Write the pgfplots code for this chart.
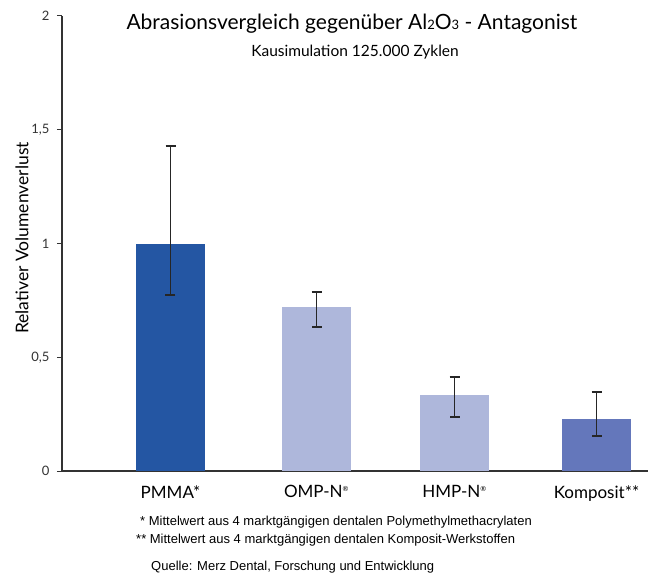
\documentclass[border=0pt]{standalone}
\usepackage{pgfplots}
\pgfplotsset{compat=1.18}
\usepackage{fontspec}
\setmainfont{Lato}
\newfontfamily\arialfont{Liberation Sans}
\definecolor{cPMMA}{HTML}{2456A3}
\definecolor{cLight}{HTML}{AEB7DB}
\definecolor{cKomp}{HTML}{6477BB}
\definecolor{cAxis}{HTML}{333333}
\definecolor{cErr}{HTML}{262626}
\pgfplotsset{
  myerr/.style={
    error bars/.cd,
      y dir=both, y explicit,
      error bar style={draw=cErr, line width=1.8pt, solid},
      error mark options={rotate=90, draw=cErr, line width=1.6pt, mark size=5pt},
  },
}
\newcommand{\sub}[1]{{\fontsize{13}{13}\selectfont #1}}
\newcommand{\reg}{\textsuperscript{\fontsize{7}{7}\selectfont ®}}
\begin{document}
\begin{tikzpicture}[x=1pt,y=1pt]
\useasboundingbox (-62,-103) rectangle (600,471);
\begin{axis}[
  scale only axis, width=586pt, height=455pt,
  xmin=0, xmax=586, ymin=0, ymax=2,
  axis x line*=bottom, axis y line*=left,
  axis line style={-, draw=cAxis, line width=1.2pt},
  ytick={0,0.5,1,1.5,2},
  yticklabel style={font=\fontsize{13}{13}\selectfont, /pgf/number format/use comma, /pgf/number format/assume math mode=true, text=cAxis, xshift=-4pt},
  tick align=outside, major tick length=5pt,
  ytick style={draw=cAxis, line width=1pt},
  xtick={108.5,254.5,392.5,534.5},
  xticklabels={PMMA*, OMP-N\reg, HMP-N\reg, Komposit**},
  xtick style={draw=none},
  xticklabel style={font=\fontsize{17}{17}\selectfont, yshift=-6pt},
  ybar, bar width=69, bar shift=0pt,
]
\addplot[fill=cPMMA, draw=none, myerr] table[x=x, y=y, y error plus=ep, y error minus=em] {
x y ep em
108.5 1.000 0.429 0.226
};
\addplot[fill=cLight, draw=none, myerr] table[x=x, y=y, y error plus=ep, y error minus=em] {
x y ep em
254.5 0.722 0.066 0.088
};
\addplot[fill=cLight, draw=none, myerr] table[x=x, y=y, y error plus=ep, y error minus=em] {
x y ep em
392.5 0.334 0.080 0.096
};
\addplot[fill=cKomp, draw=none, myerr] table[x=x, y=y, y error plus=ep, y error minus=em] {
x y ep em
534.5 0.229 0.118 0.074
};
\end{axis}
\node[anchor=base, font=\fontsize{21}{21}\selectfont, inner sep=0pt] at (290,441) {Abrasionsvergleich gegenüber Al\sub{2}O\sub{3} - Antagonist};
\node[anchor=base, font=\fontsize{15.5}{15.5}\selectfont, inner sep=0pt] at (293,414) {Kausimulation 125.000 Zyklen};
\node[rotate=90, font=\fontsize{17.5}{17.5}\selectfont] at (-40,233) {Relativer Volumenverlust};
\node[anchor=base west, font=\arialfont\fontsize{13}{13}\selectfont, inner sep=0pt] at (78,-54) {* Mittelwert aus 4 marktgängigen dentalen Polymethylmethacrylaten};
\node[anchor=base west, font=\arialfont\fontsize{13}{13}\selectfont, inner sep=0pt] at (74,-72) {** Mittelwert aus 4 marktgängigen dentalen Komposit-Werkstoffen};
\node[anchor=base west, font=\arialfont\fontsize{13}{13}\selectfont, inner sep=0pt] at (89,-99) {Quelle: Merz Dental, Forschung und Entwicklung};
\end{tikzpicture}
\end{document}
